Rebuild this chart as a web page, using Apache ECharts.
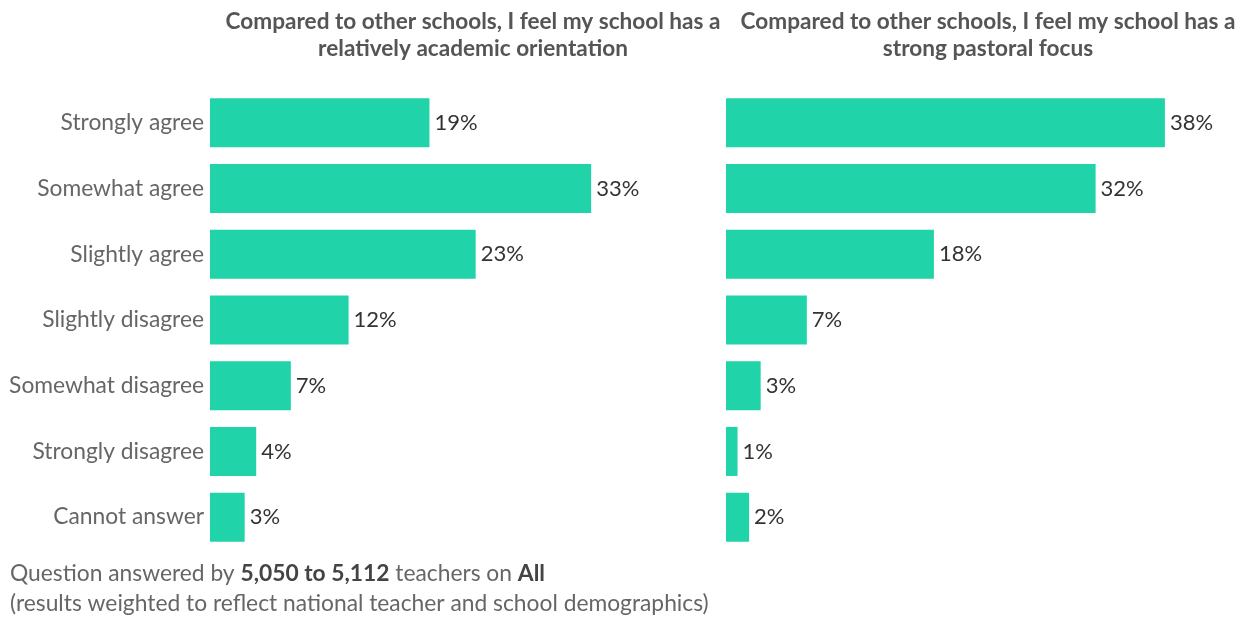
<!DOCTYPE html>
<html>
<head>
<meta charset="utf-8">
<script src="https://cdn.jsdelivr.net/npm/echarts@6/dist/echarts.min.js"></script>
<style>
  html, body { margin: 0; padding: 0; background: #ffffff; }
  #chart { width: 1247px; height: 617px; }
</style>
</head>
<body>
<div id="chart"></div>
<script>
// Survey response categories (top to bottom)
const categories = [
  'Strongly agree',
  'Somewhat agree',
  'Slightly agree',
  'Slightly disagree',
  'Somewhat disagree',
  'Strongly disagree',
  'Cannot answer'
];

// Percent of teachers per response
const academicValues = [19, 33, 23, 12, 7, 4, 3];
const pastoralValues = [38, 32, 18, 7, 3, 1, 2];

const academicTitle = 'Compared to other schools, I feel my school has a\nrelatively academic orientation';
const pastoralTitle = 'Compared to other schools, I feel my school has a\nstrong pastoral focus';

const FONT = 'Lato, "Open Sans", sans-serif';
const BAR_COLOR = '#20d3a8';

const chart = echarts.init(document.getElementById('chart'), null, { renderer: 'canvas' });

function valueAxis(gridIndex) {
  return {
    type: 'value', gridIndex, min: 0, max: 40,
    show: false, splitLine: { show: false }
  };
}

function categoryAxis(gridIndex, showLabels) {
  return {
    type: 'category', gridIndex, data: categories, inverse: true,
    axisLine: { show: false }, axisTick: { show: false },
    axisLabel: {
      show: showLabels, margin: 6, fontSize: 22.8, color: '#666',
      fontFamily: FONT
    }
  };
}

function barSeries(idx, values) {
  return {
    type: 'bar', xAxisIndex: idx, yAxisIndex: idx, data: values,
    barWidth: 49, itemStyle: { color: BAR_COLOR },
    silent: true,
    label: {
      show: true, position: 'right', distance: 5,
      formatter: '{c}%', fontSize: 22, color: '#333', fontFamily: FONT
    }
  };
}

const titleStyle = {
  fontSize: 22.6, fontWeight: 'bold', color: '#555', fontFamily: FONT,
  lineHeight: 27, align: 'center'
};

chart.setOption({
  animation: false,
  backgroundColor: '#ffffff',
  title: [
    { text: academicTitle, left: 468, top: 3, textAlign: 'center', textStyle: titleStyle },
    { text: pastoralTitle, left: 983, top: 3, textAlign: 'center', textStyle: titleStyle }
  ],
  grid: [
    { left: 210, top: 90, width: 462, height: 460 },
    { left: 726, top: 90, width: 462, height: 460 }
  ],
  xAxis: [valueAxis(0), valueAxis(1)],
  yAxis: [categoryAxis(0, true), categoryAxis(1, false)],
  series: [barSeries(0, academicValues), barSeries(1, pastoralValues)],
  graphic: [
    {
      type: 'text', left: 10, top: 562,
      style: {
        text: '{n|Question answered by }{b|5,050 to 5,112}{n| teachers on }{b|All}\n{n|(results weighted to reflect national teacher and school demographics)}',
        fontFamily: FONT,
        fill: '#666',
        rich: {
          n: { fontSize: 22.8, fill: '#666', fontFamily: FONT, lineHeight: 30 },
          b: { fontSize: 22.8, fill: '#444', fontWeight: 'bold', fontFamily: FONT, lineHeight: 30 }
        }
      }
    }
  ]
});
</script>
</body>
</html>
